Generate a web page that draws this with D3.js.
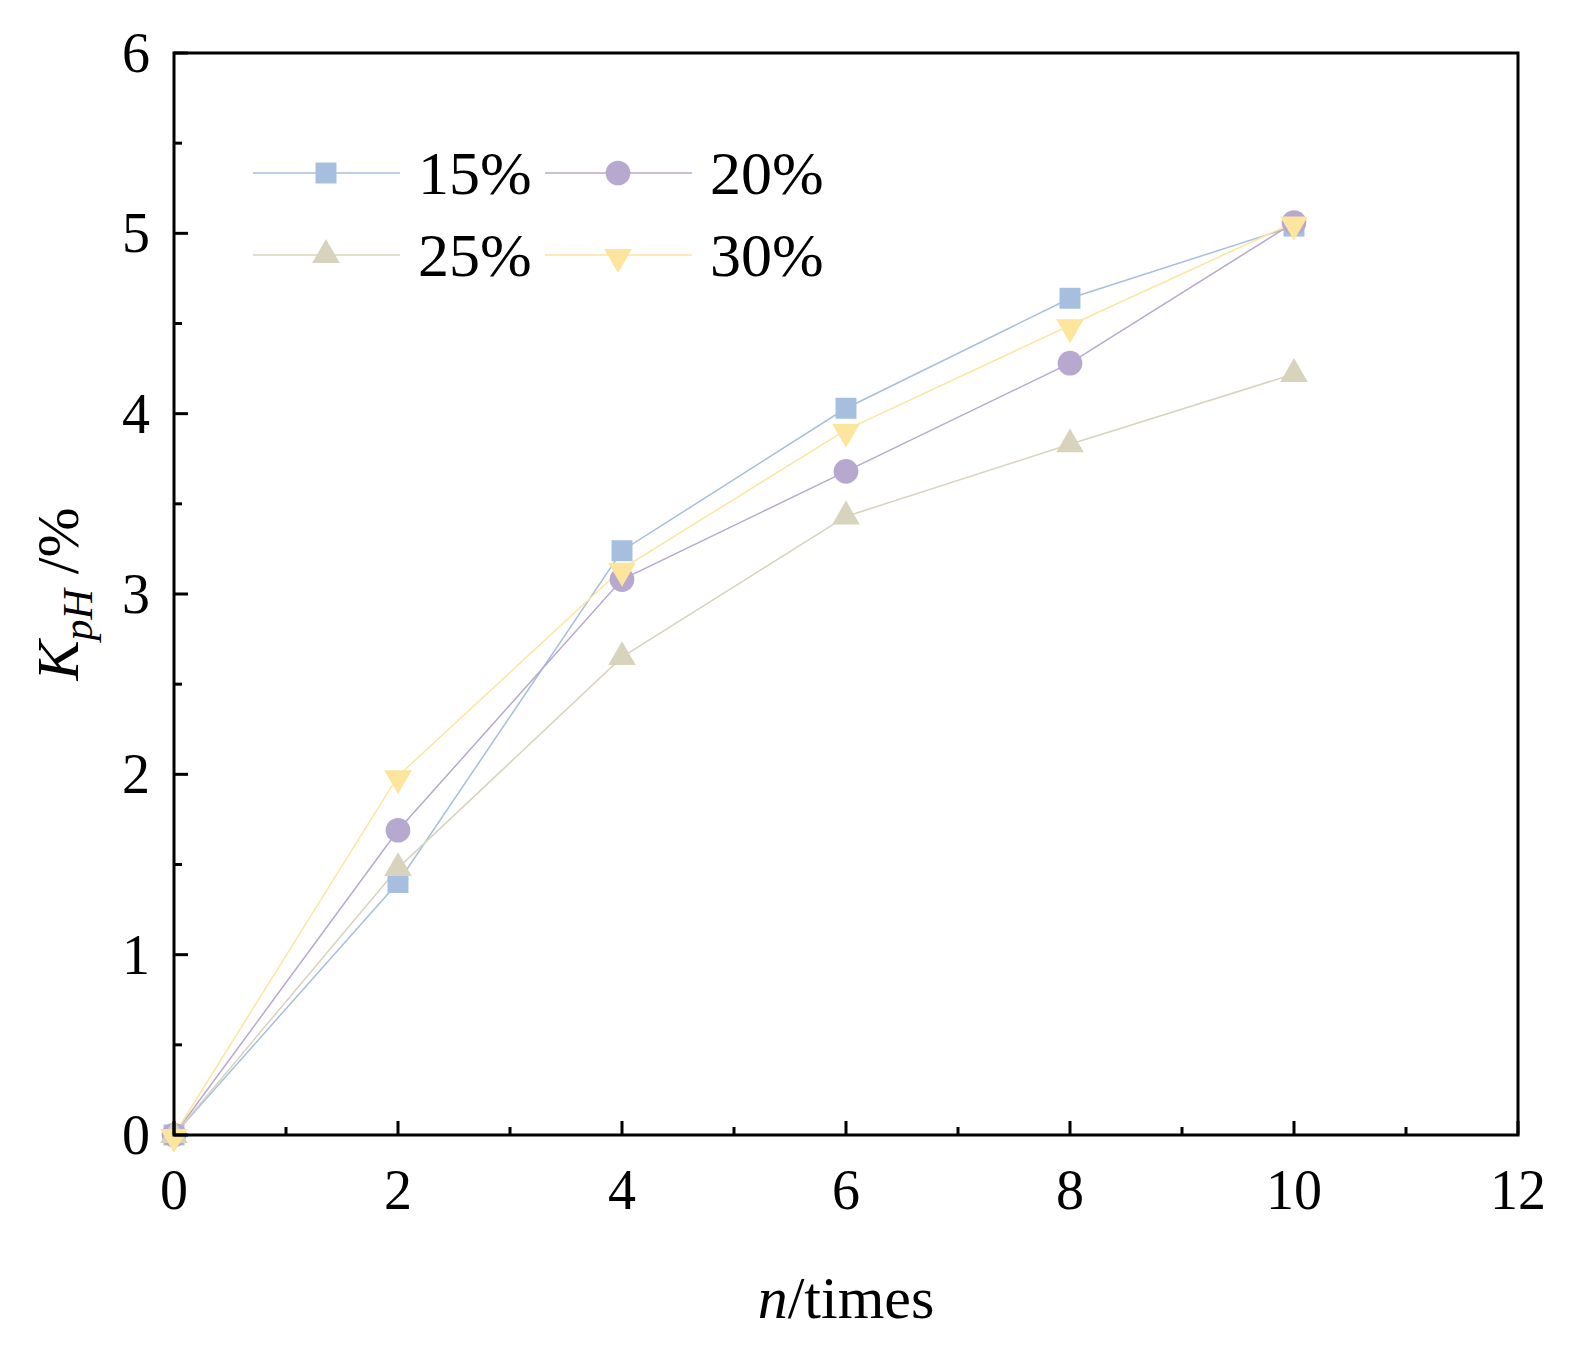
<!DOCTYPE html>
<html><head><meta charset="utf-8">
<script src="https://cdn.jsdelivr.net/npm/d3@7"></script>
<style>body{margin:0;background:#fff}text{font-family:"Liberation Serif","Times New Roman",serif}</style>
</head><body><svg id="c" width="1588" height="1367"></svg>
<script>
var xValues = [0, 2, 4, 6, 8, 10];
var seriesNames = ['15%', '20%', '25%', '30%'];
var s15 = [0, 1.40, 3.24, 4.03, 4.64, 5.04];
var s20 = [0, 1.69, 3.08, 3.68, 4.28, 5.06];
var s25 = [0, 1.48, 2.65, 3.43, 3.83, 4.22];
var s30 = [0, 1.99, 3.14, 3.91, 4.49, 5.06];
var colors = ['#a7bfdf', '#b7a8cf', '#d8d3bc', '#fde59e'];
var symbols = [d3.symbolSquare, d3.symbolCircle, d3.symbolTriangle, 'down'];
var series = [s15, s20, s25, s30];

var svg = d3.select('#c');
var L = 174, R = 1518, T = 53, B = 1135;
var x = d3.scaleLinear().domain([0, 12]).range([L, R]);
var y = d3.scaleLinear().domain([0, 6]).range([B, T]);

function marker(g, sym, color, cx, cy) {
    if (sym === 'down') {
        g.append('path').attr('d', d3.symbol(d3.symbolTriangle, 330)())
            .attr('transform', 'translate(' + cx + ',' + (cy + 2) + ') rotate(180)').attr('fill', color);
    } else {
        var size = sym === d3.symbolSquare ? 440 : (sym === d3.symbolCircle ? 480 : 330);
        g.append('path').attr('d', d3.symbol(sym, size)())
            .attr('transform', 'translate(' + cx + ',' + cy + ')').attr('fill', color);
    }
}

// lines and markers
series.forEach(function (s, i) {
    svg.append('path')
        .attr('d', d3.line().x(function (d, j) { return x(xValues[j]); }).y(function (d) { return y(d); })(s))
        .attr('fill', 'none').attr('stroke', colors[i]).attr('stroke-width', 1.5);
});
series.forEach(function (s, i) {
    s.forEach(function (v, j) { marker(svg, symbols[i], colors[i], x(xValues[j]), y(v)); });
});

// frame
svg.append('rect').attr('x', L).attr('y', T).attr('width', R - L).attr('height', B - T)
    .attr('fill', 'none').attr('stroke', '#000').attr('stroke-width', 3);

// ticks (inward)
d3.range(0, 12.01, 1).forEach(function (v) {
    var len = v % 2 === 0 ? 14 : 8;
    svg.append('line').attr('x1', x(v)).attr('x2', x(v)).attr('y1', B).attr('y2', B - len)
        .attr('stroke', '#000').attr('stroke-width', 3);
});
d3.range(0, 6.01, 0.5).forEach(function (v) {
    var len = v % 1 === 0 ? 14 : 8;
    svg.append('line').attr('x1', L).attr('x2', L + len).attr('y1', y(v)).attr('y2', y(v))
        .attr('stroke', '#000').attr('stroke-width', 3);
});
d3.range(0, 13, 2).forEach(function (v) {
    svg.append('text').attr('x', x(v)).attr('y', B + 74).attr('text-anchor', 'middle')
        .attr('font-size', 56).text(v);
});
d3.range(0, 7, 1).forEach(function (v) {
    svg.append('text').attr('x', L - 24).attr('y', y(v) + 19).attr('text-anchor', 'end')
        .attr('font-size', 56).text(v);
});

// axis titles
var xt = svg.append('text').attr('x', 846).attr('y', 1318).attr('text-anchor', 'middle').attr('font-size', 60);
xt.append('tspan').attr('font-style', 'italic').text('n');
xt.append('tspan').text('/times');
var yt = svg.append('text').attr('transform', 'translate(78,594) rotate(-90)').attr('text-anchor', 'middle').attr('font-size', 60);
yt.append('tspan').attr('font-style', 'italic').text('K');
yt.append('tspan').attr('font-style', 'italic').attr('font-size', 42).attr('dy', 14).text('pH');
yt.append('tspan').attr('dy', -14).text(' /%');

// legend
var lx = [253, 545], ly = [173, 255];
seriesNames.forEach(function (n, i) {
    var cx = lx[i % 2], cy = ly[Math.floor(i / 2)];
    svg.append('line').attr('x1', cx).attr('x2', cx + 147).attr('y1', cy).attr('y2', cy)
        .attr('stroke', colors[i]).attr('stroke-width', 1.5);
    marker(svg, symbols[i], colors[i], cx + 73, cy);
    svg.append('text').attr('x', cx + 165).attr('y', cy + 21).attr('font-size', 62).text(n);
});
</script></body></html>
